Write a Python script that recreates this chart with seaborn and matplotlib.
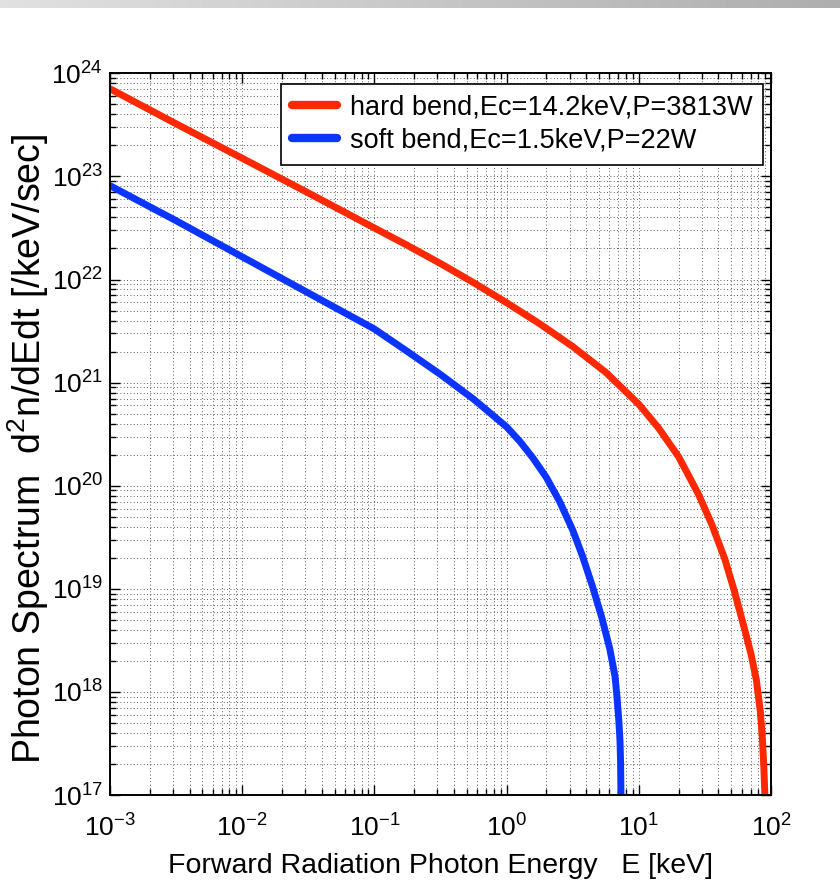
import numpy as np
import pandas as pd
import matplotlib
matplotlib.use("Agg")
import matplotlib.pyplot as plt
import seaborn as sns
from matplotlib.ticker import LogLocator, NullFormatter

# values (E in keV, spectrum in /keV/sec)
hard_E = [0.001, 0.00316, 0.01, 0.0316, 0.1, 0.178, 0.316, 0.562, 1.0, 1.78,
          3.16, 5.62, 10.0, 14.1, 20.0, 28.2, 35.5, 44.7, 52.5, 63.1,
          70.8, 77.6, 83.2, 86.1, 88.3, 89.9]
hard_N = [7.08e23, 3.24e23, 1.50e23, 6.92e22, 3.16e22, 2.14e22, 1.43e22, 9.33e21,
          5.96e21, 3.72e21, 2.24e21, 1.26e21, 6.17e20, 3.63e20, 1.91e20, 8.32e19,
          4.27e19, 1.95e19, 9.77e18, 4.07e18, 2.29e18, 1.29e18, 6.31e17, 3.47e17,
          1.86e17, 1.0e17]

soft_E = [0.001, 0.00316, 0.01, 0.0316, 0.1, 0.178, 0.316, 0.562, 1.0, 1.26,
          1.58, 2.0, 2.51, 3.16, 3.72, 4.47, 5.25, 6.03, 6.61, 6.84,
          7.08, 7.21, 7.28, 7.33]
soft_N = [8.13e22, 3.72e22, 1.66e22, 7.41e21, 3.31e21, 2.00e21, 1.20e21, 6.92e20,
          3.72e20, 2.69e20, 1.86e20, 1.20e20, 7.08e19, 3.72e19, 2.14e19, 1.05e19,
          5.25e18, 2.63e18, 1.41e18, 8.91e17, 5.01e17, 3.31e17, 2.09e17, 1.0e17]

labels = ["hard bend,Ec=14.2keV,P=3813W", "soft bend,Ec=1.5keV,P=22W"]
colors = ["#ff2800", "#0c34ff"]

df = pd.concat([
    pd.DataFrame({"E": hard_E, "N": hard_N, "beam": labels[0]}),
    pd.DataFrame({"E": soft_E, "N": soft_N, "beam": labels[1]}),
])

sns.set_style("ticks")
plt.rcParams["font.family"] = ["Liberation Sans", "DejaVu Sans"]
plt.rcParams["mathtext.fontset"] = "custom"
plt.rcParams["mathtext.rm"] = "Liberation Sans"
plt.rcParams["mathtext.default"] = "regular"
for k in ["text.color", "axes.labelcolor", "xtick.color", "ytick.color", "axes.edgecolor"]:
    plt.rcParams[k] = "black"

fig = plt.figure(figsize=(8.4, 8.92), dpi=100)

# grey window strip at the very top
strip = fig.add_axes([0, 1 - 8 / 892, 1, 8 / 892])
grad = np.linspace(0.88, 0.68, 256)[None, :]
strip.imshow(grad, cmap="gray", vmin=0, vmax=1, aspect="auto")
strip.axis("off")

ax = fig.add_axes([110 / 840, 1 - 795 / 892, 661 / 840, 721.7 / 892])

sns.lineplot(data=df, x="E", y="N", hue="beam", palette=colors, sort=False,
             linewidth=5, ax=ax, legend=True, solid_joinstyle="round")

ax.set_xscale("log")
ax.set_yscale("log")
ax.set_xlim(1e-3, 1e2)
ax.set_ylim(1e17, 1e24)

ax.xaxis.set_major_locator(LogLocator(base=10, numticks=10))
ax.yaxis.set_major_locator(LogLocator(base=10, numticks=10))
ax.xaxis.set_minor_locator(LogLocator(base=10, subs=np.arange(2, 10), numticks=20))
ax.yaxis.set_minor_locator(LogLocator(base=10, subs=np.arange(2, 10), numticks=20))
ax.xaxis.set_minor_formatter(NullFormatter())
ax.yaxis.set_minor_formatter(NullFormatter())
ax.xaxis.offsetText.set_visible(False)
ax.yaxis.offsetText.set_visible(False)

ax.grid(True, which="both", linestyle=(0, (1, 3)), linewidth=0.6, color="0.15")
ax.tick_params(which="both", direction="in", top=True, right=True, width=1.0)
ax.tick_params(which="major", length=7, labelsize=19)
ax.tick_params(axis="x", which="major", pad=14)
ax.tick_params(axis="y", which="major", pad=5)
ax.tick_params(which="minor", length=4)
for s in ax.spines.values():
    s.set_linewidth(1.4)

ax.set_xlabel("Forward Radiation Photon Energy   E [keV]", fontsize=20.5, va="top")
ax.xaxis.set_label_coords(0.5, -0.080)
ax.set_ylabel("Photon Spectrum  d$^2$n/dEdt [/keV/sec]", fontsize=27)
ax.yaxis.set_label_coords(-0.089, 0.480)

leg = ax.legend(loc="upper right", bbox_to_anchor=(0.988, 0.985), borderaxespad=0,
                fontsize=19.5, frameon=True, fancybox=False, edgecolor="black",
                framealpha=1, labelspacing=0.25, borderpad=0.4,
                handlelength=1.67, handletextpad=0.45)
leg.get_frame().set_linewidth(1.2)
for h in leg.get_lines():
    h.set_linewidth(6)

fig.savefig("out.png", dpi=100)
